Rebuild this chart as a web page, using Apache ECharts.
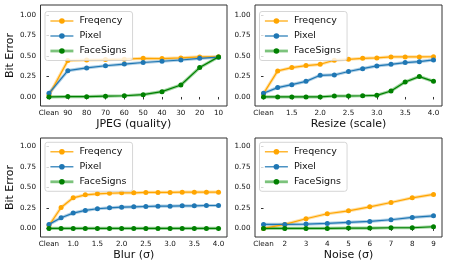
<!DOCTYPE html>
<html><head><meta charset="utf-8">
<script src="https://cdn.jsdelivr.net/npm/echarts@6/dist/echarts.min.js"></script>
<style>html,body{margin:0;padding:0;background:#fff}#c{width:449px;height:269px}</style>
</head><body><div id="c"></div>
<script>
// ---- data ----
const seriesNames = ['Freqency', 'Pixel', 'FaceSigns'];

const jpegCats = ['Clean','90','80','70','60','50','40','30','20','10'];
const jpegFreq = [0.02,0.443,0.45,0.455,0.46,0.47,0.467,0.475,0.488,0.49];
const jpegPixel = [0.045,0.32,0.354,0.38,0.40,0.42,0.435,0.45,0.47,0.485];
const jpegFace = [0.0,0.005,0.004,0.01,0.015,0.028,0.065,0.146,0.358,0.488];

const resizeCats = ['Clean','1.25','1.5','1.75','2.0','2.25','2.5','2.75','3.0','3.25','3.5','3.75','4.0'];
const resizeTickLabels = ['Clean','1.5','2.0','2.5','3.0','3.5','4.0'];
const resizeFreq = [0.04,0.317,0.358,0.382,0.398,0.447,0.459,0.47,0.475,0.488,0.488,0.488,0.49];
const resizePixel = [0.045,0.114,0.15,0.19,0.264,0.268,0.31,0.345,0.378,0.398,0.419,0.43,0.451];
const resizeFace = [0.0,0.0,0.0,0.0,0.0,0.012,0.012,0.015,0.02,0.073,0.183,0.248,0.19];

const blurCats = ['Clean','0.75','1.0','1.25','1.5','1.75','2.0','2.25','2.5','2.75','3.0','3.25','3.5','3.75','4.0'];
const blurTickLabels = ['Clean','1.0','1.5','2.0','2.5','3.0','3.5','4.0'];
const blurFreq = [0.035,0.256,0.374,0.41,0.423,0.43,0.435,0.435,0.44,0.44,0.44,0.443,0.443,0.443,0.443];
const blurPixel = [0.049,0.13,0.187,0.22,0.24,0.252,0.26,0.264,0.268,0.272,0.272,0.276,0.276,0.28,0.28];
const blurFace = [0,0,0,0,0,0,0,0,0,0,0,0,0,0,0];

const noiseCats = ['Clean','2','3','4','5','6','7','8','9'];
const noiseFreq = [0.0,0.049,0.118,0.179,0.215,0.264,0.317,0.374,0.415];
const noisePixel = [0.049,0.049,0.053,0.061,0.073,0.085,0.106,0.134,0.154];
const noiseFace = [0,0,0,0,0.004,0.004,0.008,0.008,0.02];

const yTicks = [0, 0.25, 0.5, 0.75, 1.0];

// ---- styling / layout ----
const colors = ['#FFA500', '#1f77b4', '#008000'];
const bandColors = ['rgba(255,165,0,0.35)', 'rgba(31,119,180,0.35)', 'rgba(60,170,60,0.5)'];
const FONT = 'DejaVu Sans';
const spine = '#333';

const panels = [
  {cats: jpegCats, ticks: jpegCats.map((c,i)=>i), tickLabels: jpegCats, data: [jpegFreq, jpegPixel, jpegFace], name: 'JPEG (quality)', yName: 'Bit Error',
   grid: {left: 40.5, top: 5, width: 186.5, height: 101}, ymin: -0.11, ymax: 1.12, legend: {left: 45, top: 11.5}},
  {cats: resizeCats, ticks: [0,2,4,6,8,10,12], tickLabels: resizeTickLabels, data: [resizeFreq, resizePixel, resizeFace], name: 'Resize (scale)', yName: '',
   grid: {left: 255, top: 5, width: 187, height: 101}, ymin: -0.11, ymax: 1.12, legend: {left: 259.5, top: 11.5}},
  {cats: blurCats, ticks: [0,2,4,6,8,10,12,14], tickLabels: blurTickLabels, data: [blurFreq, blurPixel, blurFace], name: 'Blur (σ)', yName: 'Bit Error',
   grid: {left: 40.5, top: 138, width: 186.5, height: 99}, ymin: -0.105, ymax: 1.105, legend: {left: 45, top: 142.3}},
  {cats: noiseCats, ticks: noiseCats.map((c,i)=>i), tickLabels: noiseCats, data: [noiseFreq, noisePixel, noiseFace], name: 'Noise (σ)', yName: '',
   grid: {left: 255, top: 138, width: 187, height: 99}, ymin: -0.105, ymax: 1.105, legend: {left: 259.5, top: 142.3}}
];

const option = {animation: false, grid: [], xAxis: [], yAxis: [], series: [], legend: []};

panels.forEach((p, gi) => {
  const n = p.cats.length;
  const margin = (n - 1) * 0.05;
  option.grid.push(Object.assign({show: true, borderColor: spine, borderWidth: 1, backgroundColor: 'transparent', containLabel: false, outerBoundsMode: 'none'}, p.grid));
  const tickMap = {};
  p.ticks.forEach((t, k) => { tickMap[t] = p.tickLabels[k]; });
  option.xAxis.push({
    type: 'value', gridIndex: gi, min: -margin, max: n - 1 + margin,
    axisLine: {show: false},
    axisTick: {show: true, length: 2.5, customValues: p.ticks, lineStyle: {color: spine}},
    axisLabel: {customValues: p.ticks, formatter: v => tickMap[Math.round(v)] ?? '', fontFamily: FONT, fontSize: 7.2, color: '#111', margin: 3.5},
    splitLine: {show: false},
    name: p.name, nameLocation: 'middle', nameGap: 12.5,
    nameTextStyle: {fontFamily: FONT, fontSize: 11, color: '#111'}
  });
  option.yAxis.push({
    type: 'value', gridIndex: gi, min: p.ymin, max: p.ymax,
    axisLine: {show: false},
    axisTick: {show: true, length: 2.5, customValues: yTicks, lineStyle: {color: spine}},
    axisLabel: {customValues: yTicks, formatter: v => v.toFixed(2), fontFamily: FONT, fontSize: 7.2, color: '#111', margin: 4.5},
    splitLine: {show: false},
    name: p.yName, nameLocation: 'middle', nameGap: 23,
    nameTextStyle: {fontFamily: FONT, fontSize: 11, color: '#111'}
  });
  p.data.forEach((vals, si) => {
    const pts = vals.map((v, i) => [i, v]);
    option.series.push({
      name: seriesNames[si], type: 'line', xAxisIndex: gi, yAxisIndex: gi, data: pts,
      symbol: 'circle', symbolSize: 5, showSymbol: true,
      itemStyle: {color: colors[si]}, lineStyle: {color: colors[si], width: 1.2},
      z: 3 + si * 0.1
    });
    option.series.push({
      name: seriesNames[si], type: 'line', xAxisIndex: gi, yAxisIndex: gi, data: pts,
      symbol: 'none', silent: true,
      lineStyle: {color: bandColors[si], width: 3.2}, itemStyle: {color: colors[si]},
      z: 2
    });
  });
  option.legend.push({
    data: [
      {name: seriesNames[0], lineStyle: {width: 1.2}},
      {name: seriesNames[1], lineStyle: {width: 1.2}},
      {name: seriesNames[2], lineStyle: {width: 2.8, color: 'rgba(80,175,80,0.75)'}}
    ],
    orient: 'vertical', left: p.legend.left, top: p.legend.top,
    itemWidth: 23, itemHeight: 7, itemGap: 5, padding: [4.5, 6, 4.5, 4],
    borderColor: '#ccc', borderWidth: 0.8, borderRadius: 2.5, backgroundColor: 'rgba(255,255,255,0.8)',
    textStyle: {fontFamily: FONT, fontSize: 9.5, color: '#111', padding: [0, 0, 0, 1]},
    selectedMode: false
  });
});

const chart = echarts.init(document.getElementById('c'), null, {renderer: 'canvas'});
chart.setOption(option);
</script>
</body></html>
